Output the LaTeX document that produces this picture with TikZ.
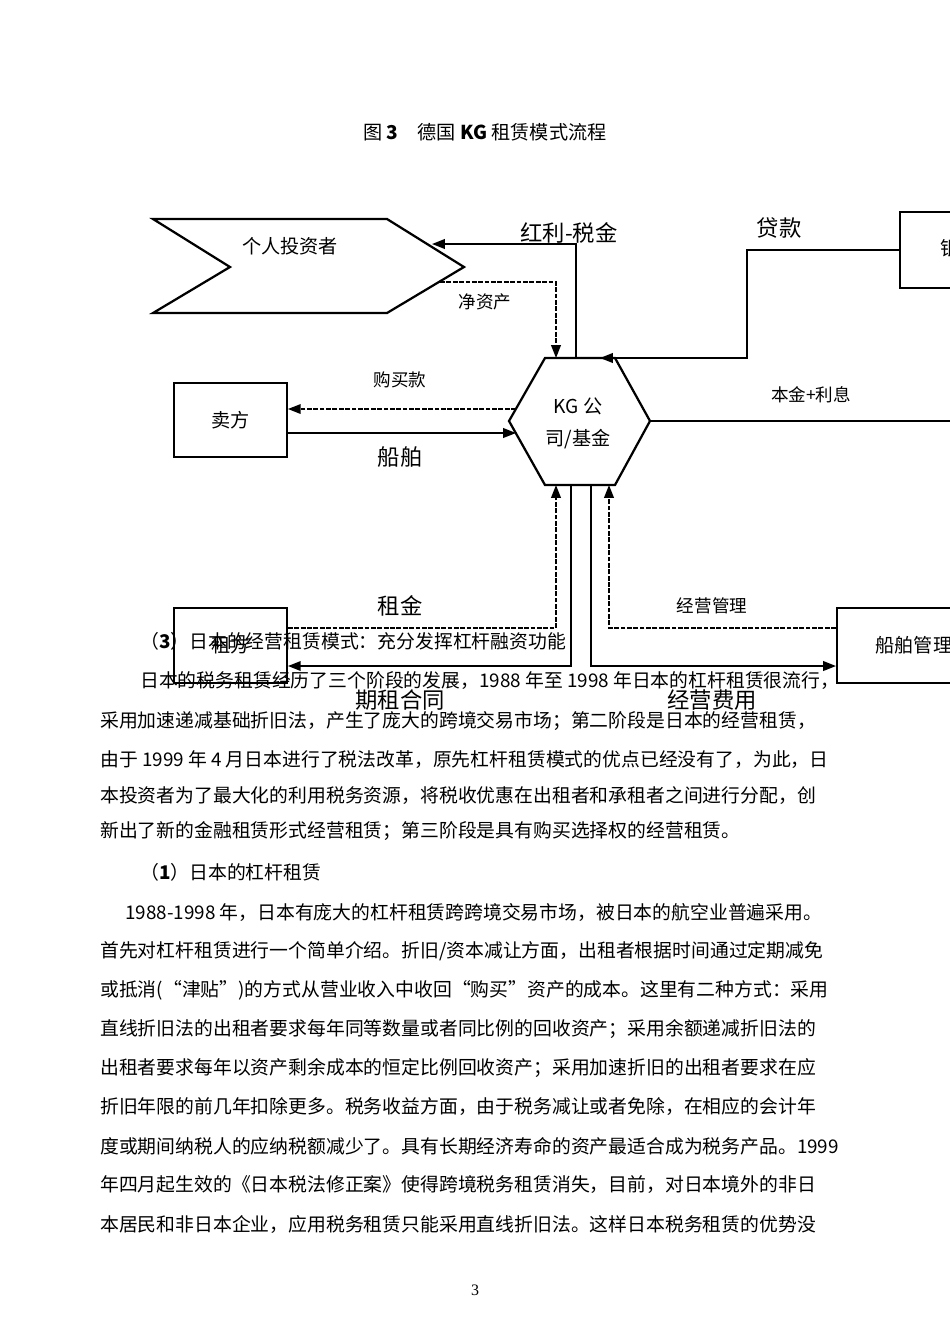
\documentclass[tikz,border=0pt]{standalone}
\usepackage{fontspec}
\setmainfont{Liberation Serif}
\newfontfamily\cjk{Noto Sans CJK SC}
\usetikzlibrary{arrows.meta}
\begin{document}
\begin{tikzpicture}[x=0.6266pt,y=-0.6266pt,
  ln/.style={line width=1.1pt},
  arr/.style={ln,-{Triangle[length=8pt,width=6pt]}},
  dsh/.style={dash pattern=on 3pt off 1pt},
  lab/.style={font=\cjk\fontsize{12}{14}\selectfont},
  big/.style={font=\cjk\fontsize{14}{16}\selectfont},
  sm/.style={font=\cjk\fontsize{11}{13}\selectfont},
  bx/.style={draw,line width=1.2pt},
  body/.style={anchor=west,inner sep=0pt,font=\cjk\fontsize{11.8}{14}\selectfont}]
\useasboundingbox (0,0) rectangle (950,1344);
\clip (0,0) rectangle (950,1344);
\fill[white] (0,0) rectangle (950,1344);
% title
\node[lab] (title) at (485,132) {图 \textbf{3}\quad 德国 \textbf{KG} 租赁模式流程};
% chevron
\draw[line width=1.4pt] (153,219) -- (387,219) -- (464,267) -- (387,313) -- (153,313) -- (230,267) -- cycle;
\node[lab] (inv) at (290,246) {个人投资者};
\coordinate (invA) at (432,244);
\coordinate (invB) at (440,282);
% hexagon
\draw[line width=1.4pt] (545,358) -- (615,358) -- (650,421) -- (615,485) -- (545,485) -- (509,421) -- cycle;
\node[lab,align=center] (kg) at (578,423) {KG 公\\[6pt]司/基金};
% boxes
\node[bx,minimum width=113*0.6266pt,minimum height=74*0.6266pt,lab] (seller) at (230.5,420) {卖方};
\node[bx,minimum width=113*0.6266pt,minimum height=75*0.6266pt,lab] (lessee) at (230.5,645.5) {租方};
\node[bx,anchor=west,minimum width=200*0.6266pt,minimum height=75*0.6266pt] (ship) at (836,645.5) {};
\node[lab,anchor=west] (shipt) at (870,645) {船舶管理公司};
\node[bx,anchor=west,minimum width=150*0.6266pt,minimum height=76*0.6266pt] (bank) at (899,250) {};
\node[lab,anchor=west] (bankt) at (935,248) {银行};
% connectors
\coordinate (h1) at (576,358);
\draw[arr] (h1) -- (576,244) -- (invA);
\node[big] (l1) at (569,233) {红利-税金};
\coordinate (h2) at (556,358);
\draw[arr,dsh] (invB) -- (556,282) -- (h2);
\node[sm] (l2) at (485,302) {净资产};
\coordinate (h3) at (600,358);
\draw[arr] (bank.west) -- (747,250) -- (747,358) -- (h3);
\node[big] (l3) at (779,228) {贷款};
\coordinate (hr) at (650,421);
\draw[ln] (hr) -- (960,421);
\node[sm] (l4) at (811,395) {本金+利息};
\coordinate (hl1) at (516,409);
\draw[arr,dsh] (hl1) -- (seller.east |- hl1);
\node[sm] (l5) at (400,380) {购买款};
\coordinate (hl2) at (516,433);
\draw[arr] (seller.east |- hl2) -- (hl2);
\node[big] (l6) at (400,457) {船舶};
\coordinate (hb1) at (556,485);
\draw[arr,dsh] (lessee.east |- 0,628) -- (556,628) -- (hb1);
\node[big] (l7) at (400,606) {租金};
\coordinate (hb2) at (571,485);
\draw[arr] (hb2) -- (571,666) -- (lessee.east |- 0,666);
\node[big] (l8) at (400,700) {期租合同};
\coordinate (hb3) at (609,485);
\draw[arr,dsh] (ship.west |- 0,628) -- (609,628) -- (hb3);
\node[sm] (l9) at (712,606) {经营管理};
\coordinate (hb4) at (591,485);
\draw[arr] (hb4) -- (591,666) -- (ship.west |- 0,666);
\node[big] (l10) at (712,700) {经营费用};
% body text
\node[body] (t1) at (140,641) {（\textbf{3}）日本的经营租赁模式：充分发挥杠杆融资功能};
\node[body] (t2) at (140,681) {日本的税务租赁经历了三个阶段的发展，1988 年至 1998 年日本的杠杆租赁很流行，};
\node[body] (t3) at (100,721) {采用加速递减基础折旧法，产生了庞大的跨境交易市场；第二阶段是日本的经营租赁，};
\node[body] (t4) at (100,760) {由于 1999 年 4 月日本进行了税法改革，原先杠杆租赁模式的优点已经没有了，为此，日};
\node[body] (t5) at (100,796) {本投资者为了最大化的利用税务资源，将税收优惠在出租者和承租者之间进行分配，创};
\node[body] (t6) at (100,831) {新出了新的金融租赁形式经营租赁；第三阶段是具有购买选择权的经营租赁。};
\node[body] (t7) at (140,872) {（\textbf{1}）日本的杠杆租赁};
\node[body] (t8) at (125,912) {1988-1998 年，日本有庞大的杠杆租赁跨跨境交易市场，被日本的航空业普遍采用。};
\node[body] (t9) at (100,951) {首先对杠杆租赁进行一个简单介绍。折旧/资本减让方面，出租者根据时间通过定期减免};
\node[body] (t10) at (100,990) {或抵消(“津贴”)的方式从营业收入中收回“购买”资产的成本。这里有二种方式：采用};
\node[body] (t11) at (100,1029) {直线折旧法的出租者要求每年同等数量或者同比例的回收资产；采用余额递减折旧法的};
\node[body] (t12) at (100,1068) {出租者要求每年以资产剩余成本的恒定比例回收资产；采用加速折旧的出租者要求在应};
\node[body] (t13) at (100,1107) {折旧年限的前几年扣除更多。税务收益方面，由于税务减让或者免除，在相应的会计年};
\node[body] (t14) at (100,1146) {度或期间纳税人的应纳税额减少了。具有长期经济寿命的资产最适合成为税务产品。1999};
\node[body] (t15) at (100,1185) {年四月起生效的《日本税法修正案》使得跨境税务租赁消失，目前，对日本境外的非日};
\node[body] (t16) at (100,1224) {本居民和非日本企业，应用税务租赁只能采用直线折旧法。这样日本税务租赁的优势没};
\node[font=\fontsize{10}{12}\selectfont] (pg) at (475,1290) {3};
\end{tikzpicture}
\end{document}
